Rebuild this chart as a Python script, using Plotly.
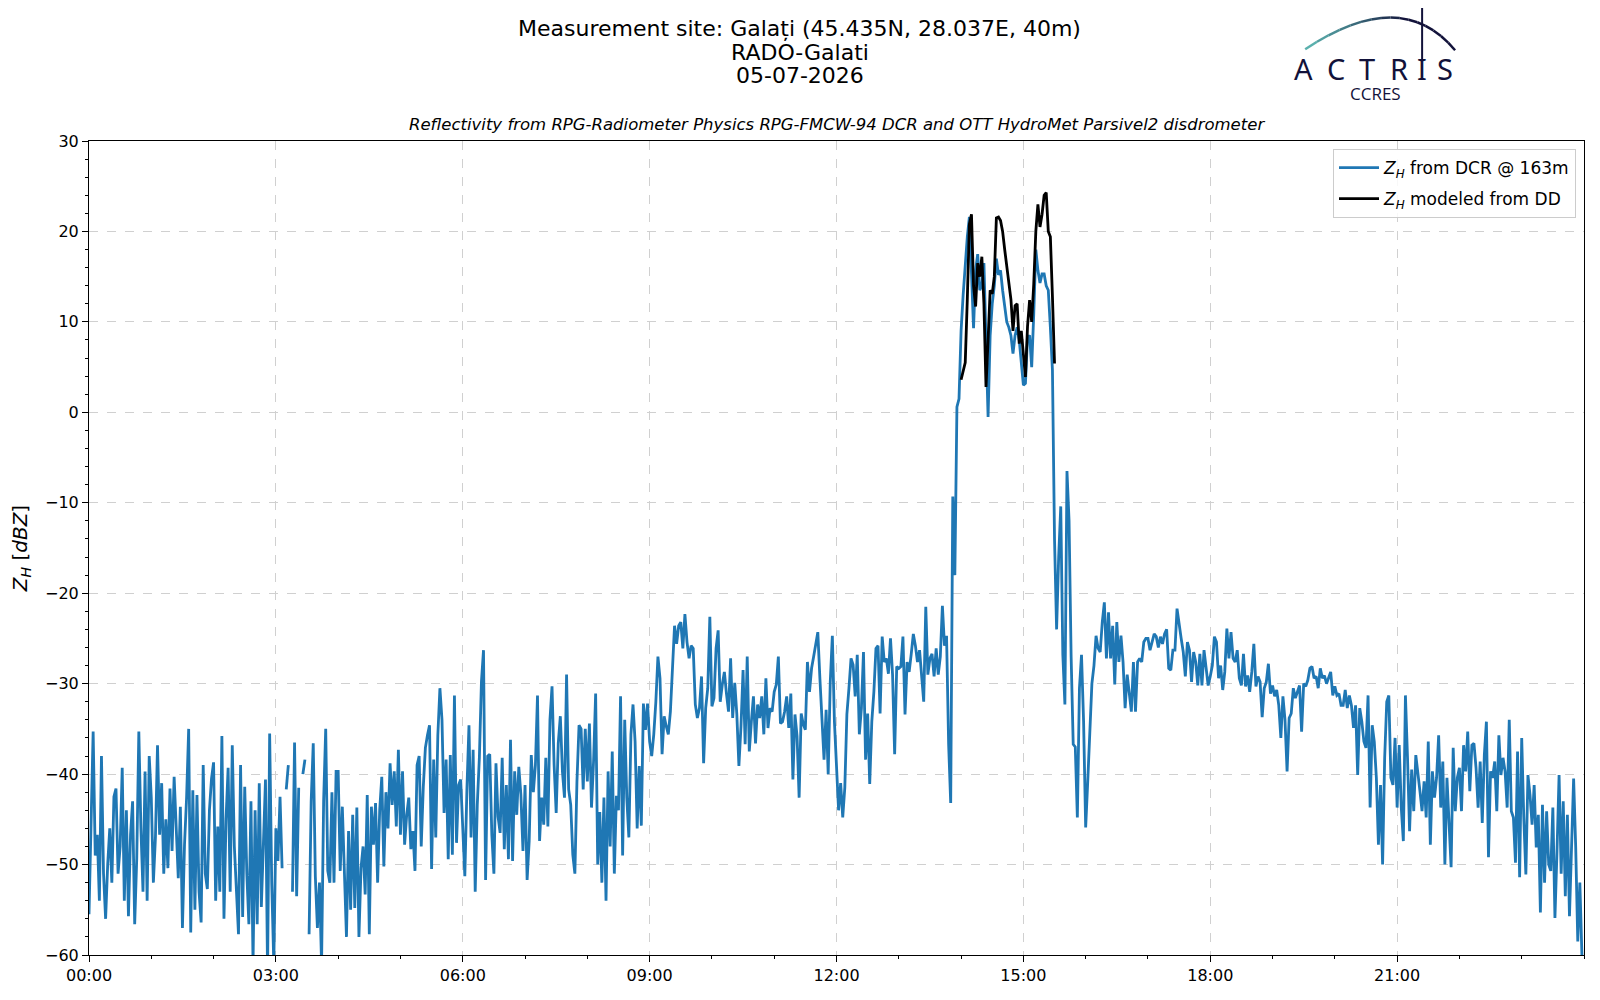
## Reflectividad Z_H: radar DCR vs modelado desde disdrometro (Galati)

import pandas as pd
import plotly.graph_objects as go

## DATOS (un valor cada 2 minutos)

fecha = "2026-07-05"
paso = "2min"

# Z_H del radar DCR @ 163m, 00:00 -> 06:00  (una linea = una hora)
z_dcr_00_06 = [
    -55.5, -44, -35.3, -49, -46.7, -54, -38, -51, -56, -50, -46, -52, -42.5, -41.6, -51, -48, -39.3, -54, -44, -55.7, -46.7, -43, -56.6, -49.3, -35.3, -46, -53, -39.7, -54, -38,
    -42.6, -52, -47, -36.8, -46.7, -41, -51, -45, -50.4, -41.6, -48.5, -40.3, -46, -51.5, -43.6, -57, -47.8, -42.6, -35, -57.5, -41.8, -55, -42.3, -53, -56.4, -39, -51, -52.7, -44, -40.5,
    -38.7, -54, -45.8, -53, -35.8, -56, -45, -39.3, -53, -36.8, -48, -53, -57.7, -39, -55.8, -41.4, -51, -56.6, -43, -61, -44, -56.6, -41, -54.7, -47, -40.6, -62, -35.5, -52, -61,
    -46, -49.6, -42.5, -50.4, None, -41.7, -39, None, -53, -36.5, -53.5, -41.5, None, -40, -38.4, None, -57.7, -43, -36.6, -51.3, -57, -52, -61, -43, -35, -50.7, -52, -42, -52, -39.7,
    -39.7, -50.7, -43.6, -51, -58, -46.3, -55, -44.5, -54.8, -43.7, -58, -50.4, -48, -53.3, -42.3, -57.7, -43.6, -47.8, -43.2, -52, -44, -40.3, -50.2, -42, -46, -38.8, -43.4, -39.7, -45.8, -37.3,
    -46.7, -39.7, -47.8, -44.5, -42.6, -48.3, -46.3, -50.7, -39, -38, -48, -41.4, -37.1, -35.7, -34.6, -50.5, -38.4, -47, -35.7, -30.5, -34, -44.3, -38.4, -49.4, -37.9, -48.9, -31.3, -47.6, -41.2, -40.6,
]

# 06:00 -> 12:00
z_dcr_06_12 = [
    -46, -51.3, -41.7, -34.6, -47, -37.3, -53, -43.4, -38.2, -29.8, -26.3, -51.7, -38, -37.8, -46.7, -51, -38.8, -44.7, -46.5, -38.2, -48.3, -41.2, -49.4, -36.2, -49.6, -39.7, -44.5, -39.2, -42.3, -48.5,
    -41.2, -51.7, -47.4, -37.9, -42, -39, -31.3, -47.4, -42.6, -45.6, -38.2, -45.8, -34, -30.3, -39, -44.3, -36.6, -33.6, -39.7, -42.6, -29, -41.7, -43.4, -48.9, -51, -40.8, -34.6, -35, -41.7, -35,
    -40.8, -34.4, -43.7, -38.6, -31.1, -50, -44.2, -52, -42.6, -54, -39.7, -48, -37.5, -51, -42.4, -44, -31.4, -49, -34, -42.6, -47, -35.6, -32.3, -36.4, -46, -39.1, -45.7, -32.2, -35.1, -32.2,
    -36.4, -38, -35.6, -32, -27, -29.4, -37.8, -33.6, -34.7, -35.6, -33.1, -27.6, -23.6, -25.6, -23.6, -23.2, -26.1, -22.3, -25.4, -27.2, -25.8, -26.1, -32.3, -33.8, -32.7, -29.2, -38.8, -32.7, -30.5, -22.6,
    -32.5, -31.6, -26.1, -24.1, -32, -30.1, -28.7, -31.1, -33.1, -27.2, -33.8, -29.9, -33.4, -39.1, -34.7, -28.5, -36.7, -27, -37.5, -34.2, -31.4, -36.6, -32.3, -33.8, -31.4, -35.6, -29.4, -34.9, -32.7, -33.1,
    -30.9, -30.1, -27, -34.4, -34.2, -33.1, -31.4, -34.9, -31.1, -40.6, -33.4, -35.8, -42.6, -33.3, -34.5, -35.1, -27.6, -30.9, -28.3, -27, -25.8, -24.3, -29.4, -34.9, -38.4, -32.9, -40, -29.8, -24.7, -34.2,
]

# 12:00 -> 18:00
z_dcr_12_18 = [
    -38.9, -44, -41, -44.8, -41.5, -33.4, -30.5, -27.2, -27.9, -31.4, -26.8, -35.6, -32.7, -26.5, -38.4, -33.3, -41.1, -34.2, -30.9, -26.1, -25.8, -33.3, -24.8, -27.6, -27.2, -28.9, -25, -29, -37.8, -28.1,
    -28.3, -28.1, -24.8, -33.4, -27.6, -28.7, -26.7, -24.5, -25.8, -27.6, -26.3, -29, -32, -21.5, -29, -27.2, -26.7, -29.2, -26.1, -29, -27, -21.4, -25.8, -24.7, -36.7, -43.2, -9.3, -18, 0.6, 1.5,
    9, 13, 16.4, 19.4, 21.6, 16, 9.3, 15.7, 17.5, 13.5, 14, 16.5, 8, -0.5, 8.5, 12, 14, 17, 15.2, 15.7, 13.5, 11.5, 10, 9.4, 8.5, 6.5, 8.5, 9.4, 8, 5.5,
    3, 3.2, 8.3, 8.5, 5, 10.9, 18, 15.7, 14.3, 15.3, 15.3, 14, 13.5, 9.4, 4.7, -14, -24, -16, -10.4, -26.8, -32.3, -6.5, -12, -27, -36.7, -37, -44.8, -30.5, -26.8, -34.2,
    -45.9, -40.8, -34.6, -30, -28, -24.7, -26.1, -26.5, -23.2, -21, -27.2, -22.1, -27.2, -23.6, -30.1, -23.2, -27.6, -24.7, -27.6, -32.7, -29, -30.9, -33.1, -27.6, -33.1, -27.6, -27.2, -27.6, -25.4, -25,
    -25, -26.3, -25.5, -24.5, -24.8, -26, -24.8, -25.6, -24.5, -24, -28.3, -28.5, -26.3, -26.3, -21.7, -23.6, -25, -26.5, -29.2, -25.4, -26.3, -29.8, -26.5, -27.6, -30.2, -26.7, -30.2, -26.3, -28, -30.2,
]

# 18:00 -> 24:00
z_dcr_18_24 = [
    -29.2, -28, -24.8, -25.4, -29.4, -28, -30.7, -28.7, -23.9, -27.2, -24.3, -27.2, -27.6, -26.3, -29.4, -30.2, -26.7, -30.3, -29.1, -30.9, -28.7, -25.6, -30.3, -29.2, -29.8, -33.7, -30.5, -29.8, -27.8, -31.1,
    -30.2, -31.4, -30.7, -32.4, -36, -31.4, -34, -39.7, -33.8, -33.3, -30.5, -31.6, -30.9, -30.2, -35.3, -30, -30.3, -29.6, -28.3, -28.1, -29.4, -29.2, -30.5, -28.3, -29.4, -29.1, -30, -29.4, -28.7, -31.3,
    -30.3, -31.3, -31.1, -32.4, -32.4, -30.7, -32.7, -31.3, -32.4, -34.9, -32.4, -40.1, -32.7, -34.2, -36.4, -37.1, -31.3, -43.7, -34.6, -36.4, -40.4, -47.8, -41.2, -50, -38.2, -32, -31.3, -40.4, -41.2, -36,
    -43.7, -36.8, -43.7, -47.4, -31.3, -38.2, -46.3, -39.5, -44.1, -37.9, -39.7, -41.9, -44.1, -40.8, -44.8, -36.4, -47.8, -39.7, -42.6, -40.4, -35.7, -43.7, -38.6, -50, -40.4, -44.8, -50.3, -37.1, -44.1, -40.4,
    -39.3, -44.1, -36.8, -39.7, -35.3, -41.9, -36.8, -36.6, -39.3, -43.7, -38.6, -45.4, -37.9, -34.2, -49.2, -39.7, -40.4, -38.6, -44.1, -35.7, -40.1, -38.2, -39.7, -43.7, -34, -44.1, -44.8, -49.8, -37.5, -51.4,
    -36, -44.8, -51.1, -40.1, -42.3, -45.6, -41.2, -48.1, -44.5, -55.3, -43.4, -52, -44.1, -50, -50.7, -43.7, -55.9, -48.5, -40.1, -51, -43, -53.5, -44.5, -55.7, -48, -40.5, -48, -58.5, -52, -60,
]

# Z_H modelado desde el disdrometro (DD), 14:00 -> 15:30
inicio_dd = "14:00"
z_dd = [
    3.6, 4.7, 5.5, 12.5, 20.8, 21.9, 14, 11.7, 16.5, 15, 17.2, 12, 2.8, 8, 13.5, 13.1, 15,
    21.5, 21.6, 21.2, 20, 18, 16, 13.9, 12.5, 9, 11.8, 12, 7.6, 9, 6, 3.9, 9.5, 12.4, 10,
    14.2, 20, 23, 20.5, 21.9, 24, 24.3, 20, 19.4, 12.8, 5.4,
]

ticks_horas = ["00:00", "03:00", "06:00", "09:00", "12:00", "15:00", "18:00", "21:00"]

titulo = ["Measurement site: Galați (45.435N, 28.037E, 40m)", "RADO-Galati", "05-07-2026"]
subtitulo = "Reflectivity from RPG-Radiometer Physics RPG-FMCW-94 DCR and OTT HydroMet Parsivel2 disdrometer"
logo = "ACTRIS"
logo_sub = "CCRES"

## SERIES

z_dcr = z_dcr_00_06 + z_dcr_06_12 + z_dcr_12_18 + z_dcr_18_24
t_dcr = pd.date_range(f"{fecha} 00:00", periods=len(z_dcr), freq=paso)
t_dd = pd.date_range(f"{fecha} {inicio_dd}", periods=len(z_dd), freq=paso)

fuente = "DejaVu Sans"
azul_noche = "#12123a"
zh = "<i>Z</i><sub><i>H</i></sub>"

fig = go.Figure()

fig.add_trace(go.Scatter(
    x = t_dcr,
    y = z_dcr,
    mode = "lines",
    name = f"{zh} from DCR @ 163m",
    legendgroup = "dcr",
    line = dict(color = "#1f77b4", width = 2.8),
    connectgaps = False,
))

fig.add_trace(go.Scatter(
    x = t_dd,
    y = z_dd,
    mode = "lines",
    name = f"{zh} modeled from DD",
    legendgroup = "dd",
    line = dict(color = "black", width = 2.8),
))

## EJES

x_ini = pd.Timestamp(f"{fecha} 00:00")
x_fin = x_ini + pd.Timedelta(days=1)

fig.update_xaxes(
    type = "date",
    range = [x_ini, x_fin],
    tickvals = [pd.Timestamp(f"{fecha} {h}") for h in ticks_horas],
    ticktext = ticks_horas,
    ticks = "outside", ticklen = 6, tickwidth = 1, tickcolor = "black",
    minor = dict(dtick = 3600000, ticks = "outside", ticklen = 3, tickcolor = "black", showgrid = False),
    showgrid = True, gridcolor = "#d0d0d0", griddash = "dash", gridwidth = 1,
    showline = True, linecolor = "black", linewidth = 1, mirror = True,
    tickfont = dict(size = 16, color = "black"),
    zeroline = False,
)

fig.update_yaxes(
    range = [-60, 30],
    dtick = 10,
    ticks = "outside", ticklen = 6, tickwidth = 1, tickcolor = "black",
    minor = dict(dtick = 2, ticks = "outside", ticklen = 3, tickcolor = "black", showgrid = False),
    showgrid = True, gridcolor = "#d0d0d0", griddash = "dash", gridwidth = 1,
    showline = True, linecolor = "black", linewidth = 1, mirror = True,
    tickfont = dict(size = 16, color = "black"),
    title = dict(text = f"{zh} [<i>dBZ</i>]", font = dict(size = 20, color = "black"), standoff = 16),
    zeroline = False,
)

## POSICIONES (pixeles de la captura; la pagina deja 8 px de margen)

OFF = 8
ANCHO, ALTO = 1600 - 2 * OFF, 1000 - 2 * OFF
ML, MT = 89 - OFF, 141 - OFF
MR = ANCHO - (1585 - OFF)
MB = ALTO - (957 - OFF)
pw, ph = ANCHO - ML - MR, ALTO - MT - MB

def px(x):
    return (x - OFF - ML) / pw

def py(y):
    return (ALTO - MB - (y - OFF)) / ph

## TITULOS

for texto, y in zip(titulo, [28, 52, 75]):
    fig.add_annotation(
        x = px(800), y = py(y), xref = "paper", yref = "paper", text = texto,
        showarrow = False, xanchor = "center", yanchor = "middle",
        font = dict(size = 22, color = "black", family = fuente))

fig.add_annotation(
    x = 0.5, y = py(124), xref = "paper", yref = "paper", text = f"<i>{subtitulo}</i>",
    showarrow = False, xanchor = "center", yanchor = "middle",
    font = dict(size = 16.5, color = "black", family = fuente))

## LOGO ACTRIS / CCRES

for letra, xl in zip(logo, [1304, 1337, 1368, 1400, 1423, 1446]):
    fig.add_annotation(
        x = px(xl), y = py(68), xref = "paper", yref = "paper", text = letra,
        showarrow = False, xanchor = "center", yanchor = "middle",
        font = dict(size = 29, color = azul_noche, family = "Noto Sans"))

fig.add_annotation(
    x = px(1376), y = py(93), xref = "paper", yref = "paper", text = logo_sub,
    showarrow = False, xanchor = "center", yanchor = "middle",
    font = dict(size = 17, color = azul_noche, family = "Open Sans"))

# arco degradado turquesa -> azul noche
p0, c0, p2 = (1306, 49), (1402, -15), (1456, 50)
col_a, col_b = (95, 185, 180), (18, 18, 58)
n_seg = 16
for k in range(n_seg):
    pts = []
    for t in (k / n_seg, (k + 1) / n_seg):
        bx = (1 - t) ** 2 * p0[0] + 2 * (1 - t) * t * c0[0] + t ** 2 * p2[0]
        by = (1 - t) ** 2 * p0[1] + 2 * (1 - t) * t * c0[1] + t ** 2 * p2[1]
        pts.append((bx, by))
    f = min(1, (k + 0.5) / (n_seg * 0.6))
    rgb = tuple(int(a + (b - a) * f) for a, b in zip(col_a, col_b))
    fig.add_shape(type = "line", xref = "paper", yref = "paper",
                  x0 = px(pts[0][0]), y0 = py(pts[0][1]), x1 = px(pts[1][0]), y1 = py(pts[1][1]),
                  line = dict(color = f"rgb{rgb}", width = 2.5))

# trazo vertical de la I
fig.add_shape(type = "line", xref = "paper", yref = "paper",
              x0 = px(1423), y0 = py(3), x1 = px(1423), y1 = py(60),
              line = dict(color = azul_noche, width = 2))

## LAYOUT

fig.update_layout(
    width = ANCHO, height = ALTO,
    margin = dict(l = ML, r = MR, t = MT, b = MB),
    paper_bgcolor = "white", plot_bgcolor = "white",
    font = dict(family = fuente, color = "black"),
    showlegend = True,
    legend = dict(
        x = px(1577), y = py(149), xanchor = "right", yanchor = "top",
        bgcolor = "rgba(255, 255, 255, 0.85)",
        bordercolor = "#cccccc", borderwidth = 1,
        font = dict(size = 17, color = "black"),
        tracegroupgap = 6,
        itemwidth = 40,
    ),
    hovermode = "x",
)

fig.write_html("out.html")
